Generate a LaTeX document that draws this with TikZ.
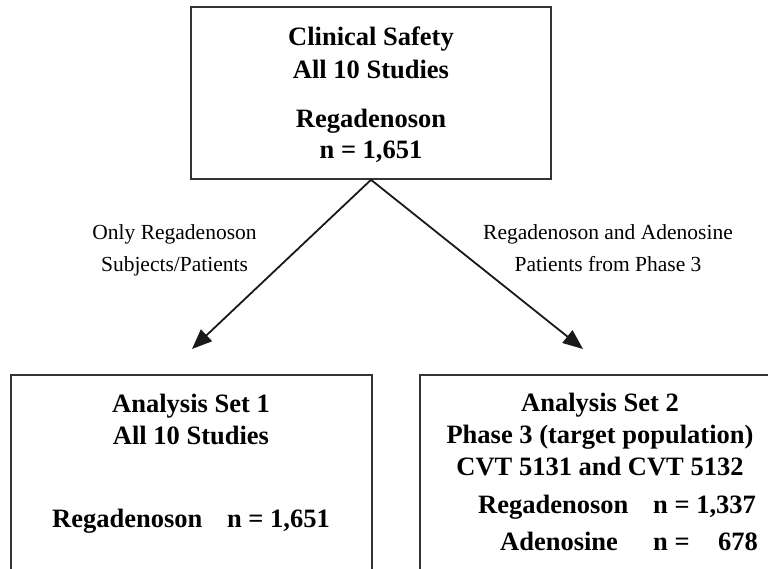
\documentclass[tikz,border=0pt]{standalone}
\usepackage{fontspec}
\setmainfont{Liberation Serif}
\usetikzlibrary{arrows.meta}
\tikzset{
  boxline/.style={draw=black!80, line width=1.6pt},
  bt/.style={font=\bfseries\fontsize{26.5}{30}\selectfont, inner sep=0pt},
  lt/.style={font=\fontsize{21.5}{25}\selectfont, inner sep=0pt},
  conn/.style={draw=black!90, line width=1.8pt, -{Triangle[length=20pt,width=16pt]}}
}
\begin{document}
\begin{tikzpicture}[x=1pt,y=-1pt]
\useasboundingbox (0,0) rectangle (768,568);
\clip (0,0) rectangle (768,568);
% boxes
\node[boxline, minimum width=360pt, minimum height=172pt, inner sep=0pt] (top) at (371,93) {};
\node[boxline, minimum width=361pt, minimum height=260pt, inner sep=0pt] (set1) at (191.5,505) {};
\node[boxline, minimum width=380pt, minimum height=260pt, inner sep=0pt] (set2) at (610,505) {};
% top box text
\node[bt, anchor=base] (t1) at (371,45) {Clinical Safety};
\node[bt, anchor=base] (t2) at (371,78) {All 10 Studies};
\node[bt, anchor=base] (t3) at (371,127) {Regadenoson};
\node[bt, anchor=base] (t4) at (371,158) {n = 1,651};
% connectors
\coordinate (e1) at (192,349);
\coordinate (e2) at (583,349);
\draw[conn] (top.south) -- (e1);
\draw[conn] (top.south) -- (e2);
% connector labels
\node[lt, anchor=base] (l1) at (174.5,239) {Only Regadenoson};
\node[lt, anchor=base] (l2) at (174.5,271) {Subjects/Patients};
\node[lt, anchor=base] (r1) at (608,239) {Regadenoson and Adenosine};
\node[lt, anchor=base] (r2) at (608,271) {Patients from Phase 3};
% set 1 text
\node[bt, anchor=base] (a1) at (191,412) {Analysis Set 1};
\node[bt, anchor=base] (a2) at (191,444) {All 10 Studies};
\node[bt, anchor=base west] (a3) at (52,527) {Regadenoson};
\node[bt, anchor=base east] (a4) at (330,527) {n = 1,651};
% set 2 text
\node[bt, anchor=base] (b1) at (600,411) {Analysis Set 2};
\node[bt, anchor=base] (b2) at (600,443) {Phase 3 (target population)};
\node[bt, anchor=base] (b3) at (600,475) {CVT 5131 and CVT 5132};
\node[bt, anchor=base west] (b4) at (478,513) {Regadenoson};
\node[bt, anchor=base west] (b5) at (653,513) {n = 1,337};
\node[bt, anchor=base west] (b6) at (500,550) {Adenosine};
\node[bt, anchor=base west] (b7) at (653,550) {n =};
\node[bt, anchor=base east] (b8) at (758,550) {678};
\end{tikzpicture}
\end{document}
